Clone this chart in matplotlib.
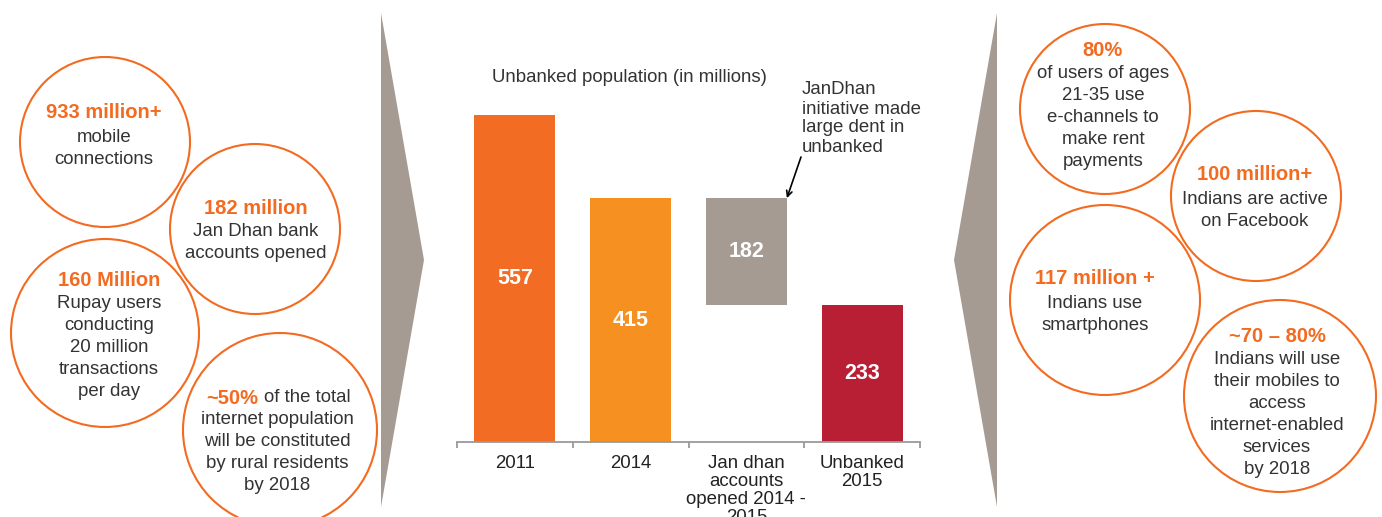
import matplotlib
matplotlib.use("Agg")
import matplotlib.pyplot as plt
from matplotlib.patches import Circle, Polygon

plt.rcParams['font.family'] = ['Liberation Sans', 'DejaVu Sans']

ORANGE = '#F26B21'
TEXT = '#333333'
GREY = '#A69B92'

# waterfall data (millions)
categories = ['2011', '2014', 'Jan dhan\naccounts\nopened 2014 -\n2015', 'Unbanked\n2015']
values = [557, 415, 182, 233]
bottoms = [0, 0, values[1] - values[2], 0]
bar_colors = ['#F26C23', '#F59021', GREY, '#B91F34']

# call-out bubbles
left_heads = ['933 million+', '182 million', '160 Million', '~50%']
left_bodies = [['mobile', 'connections'],
               ['Jan Dhan bank', 'accounts opened'],
               ['Rupay users', 'conducting', '20 million', 'transactions', 'per day'],
               ['of the total', 'internet population', 'will be constituted',
                'by rural residents', 'by 2018']]
right_heads = ['80%', '100 million+', '117 million +', '~70 – 80%']
right_bodies = [['of users of ages', '21-35 use', 'e-channels to', 'make rent', 'payments'],
                ['Indians are active', 'on Facebook'],
                ['Indians use', 'smartphones'],
                ['Indians will use', 'their mobiles to', 'access',
                 'internet-enabled', 'services', 'by 2018']]

# bubble geometry in pixels: circle x, y, radius, text x, header y
left_geo = [(105, 142, 85, 104, 111), (255, 229, 85, 256, 206),
            (105, 333, 94, 109, 278), (280, 430, 97, 277, 396)]
right_geo = [(1105, 109, 85, 1103, 48), (1256, 196, 85, 1255, 173),
             (1105, 300, 95, 1095, 277), (1280, 396, 96, 1277, 334)]

W, H = 1382, 517
fig = plt.figure(figsize=(W / 100, H / 100), dpi=100)
fig.patch.set_facecolor('white')

# background layer in pixel coords
bg = fig.add_axes([0, 0, 1, 1])
bg.set_xlim(0, W)
bg.set_ylim(H, 0)
bg.axis('off')

bg.add_patch(Polygon([(381, 13), (424, 260), (381, 507)], closed=True, color=GREY, lw=0))
bg.add_patch(Polygon([(997, 13), (954, 260), (997, 507)], closed=True, color=GREY, lw=0))


def bubble(geo, head, body, inline=False):
    cx, cy, r, tx, ty = geo
    bg.add_patch(Circle((cx, cy), r, fill=False, ec=ORANGE, lw=1.5))
    if inline:
        bg.text(tx - 19, ty, head, color=ORANGE, fontsize=14.5, fontweight='bold',
                ha='right', va='center_baseline')
        bg.text(tx - 13, ty, body[0], color=TEXT, fontsize=13.4,
                ha='left', va='center_baseline')
        for i, line in enumerate(body[1:]):
            bg.text(tx, ty + 22 * (i + 1), line, color=TEXT, fontsize=13.4,
                    ha='center', va='center_baseline')
        return
    bg.text(tx, ty, head, color=ORANGE, fontsize=14.5, fontweight='bold',
            ha='center', va='center_baseline')
    for i, line in enumerate(body):
        bg.text(tx, ty + 24 + 22 * i, line, color=TEXT, fontsize=13.4,
                ha='center', va='center_baseline')


for i in range(4):
    bubble(left_geo[i], left_heads[i], left_bodies[i], inline=(i == 3))
    bubble(right_geo[i], right_heads[i], right_bodies[i])

bg.text(492, 75, 'Unbanked population (in millions)', color=TEXT, fontsize=13.4,
        ha='left', va='center_baseline')

note = ['JanDhan', 'initiative made', 'large dent in', 'unbanked']
for i, line in enumerate(note):
    bg.text(802, 88 + 19 * i, line, color=TEXT, fontsize=13.4,
            ha='left', va='center_baseline')

# waterfall chart
ax = fig.add_axes([457 / W, (H - 442) / H, 463 / W, 382 / H])
ax.patch.set_alpha(0)
x = range(len(values))
bw = 0.7
ax.bar(x, values, bottom=bottoms, width=bw, color=bar_colors, zorder=2)
for i, (v, b) in enumerate(zip(values, bottoms)):
    ax.text(i, b + v / 2, str(v), color='white', fontsize=15.5, fontweight='bold',
            ha='center', va='center')

ax.set_xlim(-0.5, len(values) - 0.5)
ax.set_ylim(0, 650)
for s in ['left', 'top', 'right']:
    ax.spines[s].set_visible(False)
ax.spines['bottom'].set_color('#9A9A9A')
ax.spines['bottom'].set_linewidth(1.3)
ax.set_yticks([])
ax.set_xticks(list(x))
ax.set_xticklabels(categories, fontsize=13.4, color='#222222', linespacing=1.08)
ax.set_xticks([i - 0.5 for i in range(len(values) + 1)], minor=True)
ax.tick_params(axis='x', which='major', length=0, pad=9)
ax.tick_params(axis='x', which='minor', length=4, width=1.3, color='#9A9A9A', direction='out')

ax.annotate('', xy=(2 + bw / 2, values[1]), xytext=(801, H - 157),
            textcoords='figure pixels',
            arrowprops=dict(arrowstyle='->,head_length=0.4,head_width=0.2',
                            color='black', lw=1.2, shrinkA=0, shrinkB=0))

fig.savefig('out.png', dpi=100)
